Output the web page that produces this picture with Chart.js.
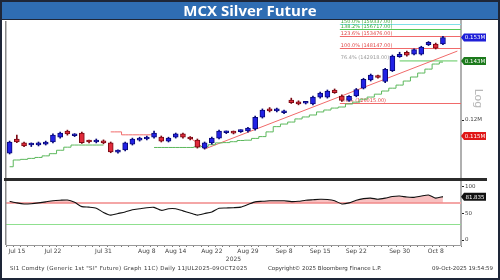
<!DOCTYPE html>
<html><head><meta charset="utf-8">
<script src="https://cdn.jsdelivr.net/npm/chart.js@4.4.1/dist/chart.umd.min.js"></script>
<style>
html,body{margin:0;padding:0;background:#fff;}
#wrap{position:relative;width:500px;height:280px;overflow:hidden;background:#fff;}
#frame{position:absolute;left:0;top:0;width:496px;height:276px;border:2px solid #1e2638;pointer-events:none;}
#title{position:absolute;left:2px;top:2px;width:496px;height:17px;background:#2f6db3;color:#fff;font:bold 15px "Open Sans","DejaVu Sans",sans-serif;text-align:center;line-height:17px;border-bottom:1px solid #1e2638;}
canvas{position:absolute;left:0;top:0;}
.foot{position:absolute;top:265px;font:5.5px "DejaVu Sans",sans-serif;color:#333;white-space:nowrap;}
</style></head>
<body>
<div id="wrap">
<canvas id="c" width="500" height="280"></canvas>
<div id="title">MCX Silver Future</div>
<div class="foot" style="left:10px;letter-spacing:0.3px">SI1 Comdty (Generic 1st "SI" Future) Graph 11C) Daily 11JUL2025-09OCT2025</div>
<div class="foot" style="left:268px">Copyright© 2025 Bloomberg Finance L.P.</div>
<div class="foot" style="left:432px">09-Oct-2025 19:54:59</div>
<div id="frame"></div>
</div>
<script>
// ---------- data ----------
const dates = ['Jul 14','Jul 15','Jul 16','Jul 17','Jul 18','Jul 21','Jul 22','Jul 23','Jul 24','Jul 25','Jul 28','Jul 29','Jul 30','Jul 31',
 'Aug 1','Aug 4','Aug 5','Aug 6','Aug 7','Aug 8','Aug 11','Aug 12','Aug 13','Aug 14','Aug 18','Aug 19','Aug 20','Aug 21','Aug 22','Aug 25','Aug 26','Aug 27','Aug 28','Aug 29',
 'Sep 1','Sep 2','Sep 3','Sep 4','Sep 8','Sep 9','Sep 10','Sep 11','Sep 12','Sep 15','Sep 16','Sep 17','Sep 18','Sep 19','Sep 22','Sep 23','Sep 24','Sep 25','Sep 26','Sep 29','Sep 30',
 'Oct 1','Oct 3','Oct 6','Oct 7','Oct 8','Oct 9'];
const tickLabels = ['Jul 15','Jul 22','Jul 31','Aug 8','Aug 14','Aug 22','Aug 29','Sep 8','Sep 15','Sep 22','Sep 30','Oct 8'];
const emptySlots = 2;

const opens  = [108900,113500,112200,111500,111500,111800,112500,114100,116200,114600,115500,112800,112500,112900,112200,109200,109900,111800,113100,113500,114100,114100,112800,114100,115200,114000,113100,110500,112200,113800,115600,115800,116000,116200,116900,121000,124000,123300,122600,127300,126600,126100,125800,128400,128400,131100,128800,127100,128800,131800,135000,136700,134400,138800,144600,146500,145700,145700,149800,150100,150100];
const highs  = [112800,114800,112500,112200,112500,112800,115200,115800,116500,115300,115800,113100,113500,113200,112500,109900,112500,113800,114100,114500,116200,114500,114100,115500,115500,114300,113500,112500,114100,116500,116200,116200,116600,117500,121400,124000,124500,124300,123600,128000,127000,126600,128800,130300,131100,131500,129200,129000,131700,135700,137400,137000,139700,145300,146500,147000,148000,149100,151200,150500,153500];
const lows   = [108600,112300,111000,111000,111200,111500,112200,113800,114800,114300,112000,112200,112200,111900,109000,108900,109600,111500,112800,113200,113800,112500,112500,113800,113800,113200,110500,110200,111800,113500,115300,115200,115700,115800,116500,120700,122900,122900,122300,126000,125500,125800,125500,128000,128000,129800,126800,126800,128500,131500,134600,135700,134000,138400,144300,144800,145300,145300,149400,147900,149800];
const closes = [112500,112500,111200,111600,112200,112500,114800,115500,115200,115000,112300,112500,113100,112200,109300,109600,112200,113500,113800,114100,115500,112800,113800,115200,114100,113500,110800,112200,113800,116200,115900,115500,116300,117200,121000,123600,123300,124000,123200,126300,125800,126300,128400,129900,130700,130100,127100,128700,131300,135300,137000,136000,139300,144900,145600,145200,147600,148700,150800,148300,153000];

const rsi = [73,70,68,68.5,70,72,74,75,75.5,71,63,62,60,52,47,50,53,57,59,61,61.5,56,59,59,55,51,47,50,53,60,60.5,61,62,67,72,73,74,74,74,72.5,73,75,76,77,76.5,74,68,70,75,78,79,77,79,82,83,81,80.5,83,85,79,81.8];
const rsiUpper = 70, rsiLower = 30;

// trailing stops (start index + values)
const greenStopA = [104600,106700,106900,107200,107500,108000,108700,109800,110800,111500,111500,111500,111500,111500];
const greenStopAStart = 0;
const greenStopB = [110700,110700,110700,110700,110700,110700,110900,111000,111600,112200,112300,112600,113000,113100,113700,114300,115900,117700,118600,119300,120400,121100,121800,122900,123600,124300,124700,125800,126500,127600,128400,129500,130700,131800,133000,134600,136200,137800,139400,141500,142300];
const greenStopBStart = 20;
const redStopA = [115900,115900,114900,114900,114900,114900,114900];
const redStopAStart = 14;
const redTrendIdx = [25,26,27,62];
const redTrendVal = [113800,112200,110200,147000];
const greenLevelIdx = [54,62];
const greenLevelVal = 142800;

// fibonacci levels
const fibStart = 46;
const fibLabels = ['150.0% (159337.00)','138.2% (156717.00)','123.6% (153476.00)','100.0% (148147.00)','76.4% (142918.00)','0.0% (126015.00)'];
const fibValues = [159300,156700,153500,148200,143000,126000];
const fibColors = ['#7fe0e8','#55c855','#f06a6a','#f06a6a',null,'#f06a6a'];
const fibTextColors = ['#3aa83a','#3aa83a','#e04848','#e04848','#9a9a9a','#e04848'];

// right-axis value tags
const tagValues = [153000,142800,114500];
const tagTexts  = ['0.153M','0.143M','0.115M'];
const tagColors = ['#1f1fd8','#1c7a1c','#e01818'];
const rsiTagValue = 81.835, rsiTagText = '81.835';
const priceTicks = [120000];
const rsiTicks = [0,50,100];

// ---------- build ----------
const N = dates.length + emptySlots;
const labels = dates.concat(Array(emptySlots).fill(''));
function pad(arr, start){ const o = Array(N).fill(null); arr.forEach((v,i)=>o[start+i]=v); return o; }
function pts(idx, vals){ const o = Array(N).fill(null); idx.forEach((k,i)=>o[k]=Array.isArray(vals)?vals[i]:vals); return o; }
const up = closes.map((c,i)=>c>=opens[i]);
const bodyFill = up.map(u=>u?'#2222e6':'#e02a3a');
const bodyEdge = up.map(u=>u?'#0a0a7a':'#7a0a14');

const overlay = {
  id:'overlay',
  beforeDatasetsDraw(chart){
    const {ctx, chartArea:a, scales:{x,y,yR}} = chart;
    ctx.save();
    // RSI reference lines
    ctx.lineWidth = 2; ctx.strokeStyle = '#f4a6a6';
    let py = yR.getPixelForValue(rsiUpper);
    ctx.beginPath(); ctx.moveTo(a.left,py); ctx.lineTo(a.right,py); ctx.stroke();
    ctx.lineWidth = 1; ctx.strokeStyle = '#8fe08f';
    py = Math.round(yR.getPixelForValue(rsiLower))+0.5;
    ctx.beginPath(); ctx.moveTo(a.left,py); ctx.lineTo(a.right,py); ctx.stroke();
    // fibonacci
    const fx = x.getPixelForValue(fibStart)-2;
    ctx.font = '5px "DejaVu Sans", sans-serif';
    ctx.textBaseline = 'bottom';
    fibValues.forEach((v,i)=>{
      const ly = Math.round(y.getPixelForValue(v))+0.5;
      if (fibColors[i]) {
        ctx.strokeStyle = fibColors[i]; ctx.lineWidth = 1;
        ctx.beginPath(); ctx.moveTo(fx,ly); ctx.lineTo(a.right,ly); ctx.stroke();
      }
      ctx.fillStyle = fibTextColors[i];
      ctx.fillText(fibLabels[i], fx+1, ly-0.5);
    });
    ctx.restore();
  },
  afterDraw(chart){
    const {ctx, chartArea:a, scales:{y,yR}} = chart;
    ctx.save();
    // divider between panels
    ctx.fillStyle = '#2b2b2b';
    ctx.fillRect(4, y.bottom-2, a.right-4+26, 3);
    // left edge line
    ctx.fillStyle = '#8a8a8a';
    ctx.fillRect(a.left-1, a.top, 1.5, y.bottom-2-a.top);
    ctx.fillRect(a.left-1, yR.top+1, 1.5, yR.bottom-yR.top-1);
    // value tags
    ctx.font = '5.5px "DejaVu Sans", sans-serif';
    ctx.textBaseline = 'middle'; ctx.textAlign = 'center';
    function tag(py, txt, bg){
      const x0 = a.right+2, w = 23, h = 8;
      ctx.fillStyle = bg;
      ctx.beginPath();
      ctx.moveTo(x0-2, py); ctx.lineTo(x0+1, py-h/2); ctx.lineTo(x0+w, py-h/2);
      ctx.lineTo(x0+w, py+h/2); ctx.lineTo(x0+1, py+h/2); ctx.closePath(); ctx.fill();
      ctx.fillStyle = '#fff';
      ctx.fillText(txt, x0+w/2+0.5, py+0.5);
    }
    tagValues.forEach((v,i)=>tag(y.getPixelForValue(v), tagTexts[i], tagColors[i]));
    tag(yR.getPixelForValue(rsiTagValue), rsiTagText, '#111');
    // "Log" label
    ctx.save();
    ctx.translate(a.right+17, (y.top+y.bottom)/2 - 2);
    ctx.rotate(Math.PI/2);
    ctx.font = '11px "DejaVu Sans", sans-serif';
    ctx.fillStyle = '#b8b8b8';
    ctx.textAlign='center'; ctx.textBaseline='middle';
    ctx.fillText('Log', 0, 0);
    ctx.restore();
    ctx.restore();
  }
};

new Chart(document.getElementById('c'), {
  data: {
    labels,
    datasets: [
      { type:'bar', label:'wick', data: pad(lows.map((l,i)=>[l,highs[i]]),0), backgroundColor: bodyEdge, barThickness:1, grouped:false, order:2, yAxisID:'y' },
      { type:'bar', label:'body', data: pad(opens.map((o,i)=>[o,closes[i]]),0), backgroundColor: bodyFill, borderColor: bodyEdge, borderWidth:1, borderSkipped:false, barThickness:5, minBarLength:2, grouped:false, order:1, yAxisID:'y' },
      { type:'line', data: pad(greenStopA,greenStopAStart), borderColor:'#5cb85c', borderWidth:1, pointRadius:0, stepped:'middle', order:5, yAxisID:'y' },
      { type:'line', data: pad(greenStopB,greenStopBStart), borderColor:'#5cb85c', borderWidth:1, pointRadius:0, stepped:'middle', order:5, yAxisID:'y' },
      { type:'line', data: pad(redStopA,redStopAStart), borderColor:'#f06a6a', borderWidth:1, pointRadius:0, stepped:'middle', order:5, yAxisID:'y' },
      { type:'line', data: pts(redTrendIdx, redTrendVal), borderColor:'#f06a6a', borderWidth:1, pointRadius:0, spanGaps:true, order:5, yAxisID:'y' },
      { type:'line', data: pts(greenLevelIdx, greenLevelVal), borderColor:'#5cc85c', borderWidth:1, pointRadius:0, spanGaps:true, order:5, yAxisID:'y' },
      { type:'line', data: pad(rsi,0), borderColor:'#111', borderWidth:1.1, pointRadius:0, tension:0.2, yAxisID:'yR', order:4,
        fill:{ target:{value:rsiUpper}, above:'rgba(242,140,140,0.55)', below:'rgba(0,0,0,0)' } }
    ]
  },
  options: {
    responsive:false, animation:false,
    layout:{ padding:{ left:6, top:21, right:0, bottom:17 } },
    plugins:{ legend:{display:false}, tooltip:{enabled:false}, title:{display:false} },
    scales:{
      x:{ type:'category', offset:true,
          grid:{ display:true, drawOnChartArea:false, tickLength:2, color:'#777' },
          border:{ display:true, color:'#999', dash:[1,2] },
          ticks:{ autoSkip:false, maxRotation:0, padding:1, font:{size:6, family:'"DejaVu Sans", sans-serif'}, color:'#444',
                  callback:(v,i)=> tickLabels.includes(labels[i]) ? labels[i] : '' },
          title:{ display:true, text:'2025', font:{size:6, family:'"DejaVu Sans", sans-serif'}, color:'#444', padding:{top:0,bottom:0} },
          afterFit:(s)=>{ s.height = 18; } },
      y:{ type:'logarithmic', position:'right', stack:'v', stackWeight:159, min:100600, max:160600,
          grid:{ display:true, drawOnChartArea:false, tickLength:3, color:'#222' },
          border:{ display:true, color:'#b0b0b0', width:2 },
          afterBuildTicks:(s)=>{ s.ticks = priceTicks.map(v=>({value:v})); },
          ticks:{ font:{size:5.5, family:'"DejaVu Sans", sans-serif'}, color:'#444', padding:1,
                  callback:(v)=> (v/1e6).toFixed(2).replace(/0$/,'')+'M' },
          afterFit:(s)=>{ s.width = 39; } },
      yR:{ type:'linear', position:'right', stack:'v', stackWeight:65, min:-9.4, max:113.2,
          grid:{ display:true, drawOnChartArea:false, tickLength:3, color:'#222' },
          border:{ display:true, color:'#b0b0b0', width:2 },
          afterBuildTicks:(s)=>{ s.ticks = rsiTicks.map(v=>({value:v})); },
          ticks:{ font:{size:5.5, family:'"DejaVu Sans", sans-serif'}, color:'#444', padding:1 },
          afterFit:(s)=>{ s.width = 39; } }
    }
  },
  plugins:[overlay]
});
</script>
</body></html>
